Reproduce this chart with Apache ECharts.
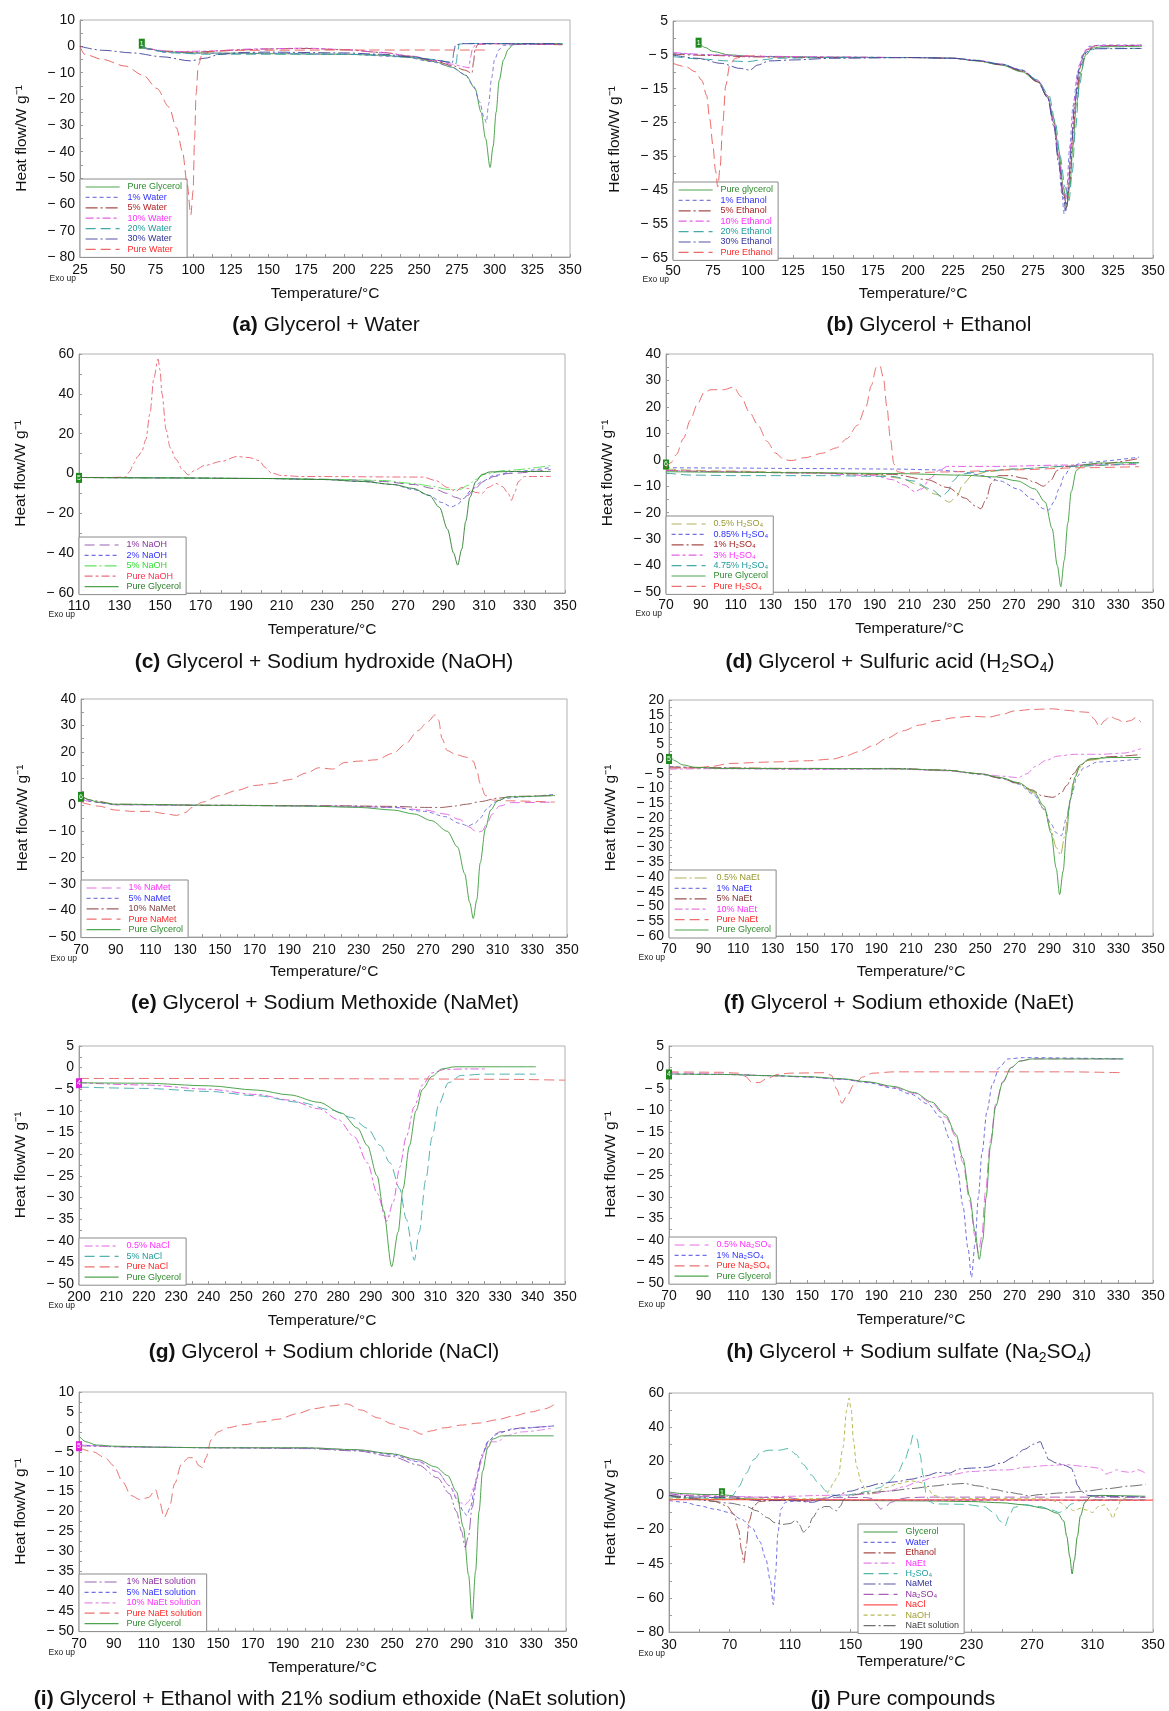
<!DOCTYPE html>
<html><head><meta charset="utf-8">
<script src="https://cdn.jsdelivr.net/npm/echarts@6/dist/echarts.min.js"></script>
<style>html,body{margin:0;padding:0;background:#fff}#c{width:1169px;height:1711px}</style>
</head><body><div id="c"></div>
<script>
// ---------------- tick labels ----------------
const aXTicks = [25,50,75,100,125,150,175,200,225,250,275,300,325,350];
const aYTicks = [-80,-70,-60,-50,-40,-30,-20,-10,0,10];
const bXTicks = [50,75,100,125,150,175,200,225,250,275,300,325,350];
const bYTicks = [-65,-55,-45,-35,-25,-15,-5,5];
const cXTicks = [110,130,150,170,190,210,230,250,270,290,310,330,350];
const cYTicks = [-60,-40,-20,0,20,40,60];
const dXTicks = [70,90,110,130,150,170,190,210,230,250,270,290,310,330,350];
const dYTicks = [-50,-40,-30,-20,-10,0,10,20,30,40];
const eYTicks = [-50,-40,-30,-20,-10,0,10,20,30,40];
const fYTicks = [-60,-55,-50,-45,-40,-35,-30,-25,-20,-15,-10,-5,0,5,10,15,20];
const gXTicks = [200,210,220,230,240,250,260,270,280,290,300,310,320,330,340,350];
const gYTicks = [-50,-45,-40,-35,-30,-25,-20,-15,-10,-5,0,5];
const hYTicks = [-50,-45,-40,-35,-30,-25,-20,-15,-10,-5,0,5];
const iYTicks = [-50,-45,-40,-35,-30,-25,-20,-15,-10,-5,0,5,10];
const jXTicks = [30,70,110,150,190,230,270,310,350];
const jYTicks = [-80,-60,-40,-20,0,20,40,60];
const jYTickLabels = ['− 80','− 60','− 45','− 20','0','20','40','60'];

// ---------------- (a) Glycerol + Water ----------------
const A_pureGlycerol = [[66,0.5],[70,-0.8],[80,-2],[100,-2.5],[125,-2.6],[150,-2.8],[200,-3],[225,-3.4],[245,-4.3],[260,-5.8],[272,-8],[281,-11],[287,-16],[291,-25],[294,-35],[297,-46],[299,-38],[301,-25],[303,-13],[306,-5],[309,-1.2],[312,0.6],[320,1],[345,1]];
const A_water1 = [[66,0.2],[70,-1],[80,-2.2],[100,-2.6],[150,-2.6],[200,-3],[240,-4],[258,-5.8],[270,-7.5],[280,-10.5],[286,-15],[290,-21],[293,-27],[294.5,-29],[296,-22],[298,-12],[300,-5],[303,-1.2],[306,0.4],[320,0.8],[345,0.8]];
const A_water5 = [[66,0],[70,-1],[80,-1.8],[100,-2.2],[125,-1.5],[150,-1],[175,-0.8],[200,-1.3],[225,-2.3],[245,-3.8],[260,-5.5],[272,-7.3],[280,-9],[285,-10.2],[286,-6],[287,-1],[289,0.8],[300,1],[345,0.6]];
const A_water10 = [[66,0],[70,-1],[85,-2],[110,-1.8],[140,-1],[175,-0.7],[200,-1.2],[225,-2.3],[245,-3.7],[260,-5.3],[272,-6.8],[280,-7.8],[283,-8.2],[284,-4],[285.5,-0.5],[288,0.9],[300,1],[345,0.7]];
const A_water20 = [[66,0],[70,-1],[85,-2.5],[110,-3],[150,-3],[200,-3],[225,-3.3],[245,-4],[260,-5],[272,-6.2],[274.5,-6.5],[275.5,-2],[276.5,0.8],[280,1.1],[345,1]];
const A_water30 = [[25,0],[40,-1.5],[60,-2.5],[80,-4],[98,-5.5],[108,-4.5],[118,-3],[135,-2.3],[150,-2.2],[200,-2.5],[225,-3],[245,-4],[260,-5.2],[270,-6],[272,-6.2],[273,-2],[274,0.5],[278,1],[345,1]];
const A_pureWater = [[25,0],[28,-3],[40,-5],[55,-7.5],[67,-11],[76,-16],[84,-23],[89,-31],[93,-40],[96,-52],[98.5,-64],[100,-55],[101,-35],[102,-18],[103.5,-7],[106,-3],[112,-2],[130,-1.5],[200,-1.4],[295,-1.4]];
const A_marker = [66, 1];

// ---------------- (b) Glycerol + Ethanol ----------------
const B_pureGly = [[66,-1.4],[70,-2.8],[75,-4],[85,-5],[100,-5.5],[150,-5.7],[200,-5.8],[225,-6],[240,-6.8],[255,-8],[268,-10],[278,-13],[284,-17],[288,-24],[291,-33],[294,-44],[296,-50],[298,-44],[300,-32],[302,-20],[305,-10],[308,-5],[312,-3],[320,-2.5],[343,-2.5]];
const B_eth1 = [[50,-4.5],[75,-5],[100,-5.5],[150,-5.7],[200,-5.8],[225,-6],[240,-6.7],[255,-7.8],[268,-9.5],[278,-12.5],[284,-17],[288,-25],[291,-36],[293,-46],[294.5,-52],[296,-45],[298,-32],[300,-20],[303,-10],[306,-5],[310,-2.5],[318,-2.1],[343,-2.1]];
const B_eth5 = [[50,-4.8],[75,-5.2],[100,-5.6],[150,-5.8],[200,-5.8],[225,-6],[240,-6.7],[255,-7.9],[268,-9.8],[278,-13],[284,-17.5],[288,-25],[291,-35],[294,-46],[296,-50],[298,-42],[300,-28],[302,-17],[305,-8],[309,-3.5],[314,-2.3],[343,-2.2]];
const B_eth10 = [[50,-4.3],[75,-5],[100,-5.4],[150,-5.6],[200,-5.8],[225,-6],[240,-6.6],[255,-7.7],[268,-9.5],[278,-12.5],[284,-17],[288,-25],[291,-35],[293.5,-44],[295,-48],[297,-42],[299,-30],[301,-18],[304,-8],[308,-3.5],[313,-2.3],[343,-2.2]];
const B_eth20 = [[50,-5.5],[70,-6.3],[85,-6.8],[97,-7],[105,-6.5],[115,-6],[150,-5.8],[200,-5.8],[225,-6],[240,-6.6],[255,-7.7],[268,-9.5],[278,-12.5],[285,-17],[289,-25],[292,-35],[295,-44],[297.5,-48],[299.5,-40],[301.5,-27],[304,-14],[307,-6],[311,-3.5],[318,-3],[343,-3.1]];
const B_eth30 = [[50,-5],[65,-6],[80,-7.5],[92,-9],[98,-9.5],[103,-8],[110,-6.8],[125,-6.5],[150,-6],[200,-5.8],[225,-6],[240,-6.7],[255,-7.8],[268,-9.6],[278,-12.8],[284,-17.5],[288,-26],[291,-37],[294,-47],[295.5,-51],[297,-45],[299,-32],[301,-20],[304,-9],[307,-4.5],[312,-3.2],[343,-3.1]];
const B_pureEth = [[50,-7.5],[58,-8.5],[64,-10],[68,-12.5],[71,-17],[73,-24],[75,-32],[76.5,-39],[78,-44],[79.5,-38],[81,-26],[83,-14],[85.5,-8],[89,-6],[95,-5.3],[105,-5.3]];
const B_marker = [66, -1.4];

// ---------------- (c) Glycerol + NaOH ----------------
const C_naoh1 = [[110,-2],[150,-2.2],[200,-2.5],[240,-3],[260,-4],[275,-5.5],[285,-7.5],[292,-10],[296,-12],[299,-13],[302,-11],[305,-8],[310,-4],[315,-1.5],[322,0],[343,2]];
const C_naoh2 = [[110,-2],[150,-2.2],[200,-2.5],[230,-3],[250,-4],[265,-5.5],[275,-8],[283,-11],[289,-14.5],[294,-16.8],[297,-15.5],[300,-12.5],[304,-8],[309,-4],[315,-1],[325,1],[343,3]];
const C_naoh5 = [[110,-2],[150,-2.2],[200,-2.5],[240,-3],[260,-3.5],[275,-5],[285,-6.5],[292,-8],[298,-8],[302,-6],[306,-3],[310,-0.5],[320,1.5],[343,4]];
const C_pureNaoh = [[110,-2],[125,-2],[133,-1.8],[135,1],[137,5],[139,8.5],[141,11],[143,17],[145,30],[147,48],[149,57.5],[150,52],[151,40],[153,22],[155,13],[158,7],[161,2],[164,-0.7],[167,1.5],[172,4],[180,6],[188,8.5],[194,8],[199,6.5],[202,3],[205,0.3],[210,-1],[220,-1.5],[280,-1.8],[286,-3.5],[292,-7],[296,-9],[299,-7],[302,-7.5],[306,-9.5],[309,-10],[312,-7],[316,-5],[319,-6.5],[322,-10],[323.5,-13.5],[325,-10],[327,-4],[330,-1.5],[343,-1.5]];
const C_pureGly = [[110,-2],[150,-2.2],[200,-2.5],[230,-3],[250,-4],[265,-5.5],[275,-7.5],[283,-11],[288,-17],[292,-28],[295,-40],[297,-46],[299,-38],[301,-24],[303,-12],[306,-4],[309,-0.5],[313,0.8],[325,1],[343,1]];
const C_marker = [110, -2.2];

// ---------------- (d) Glycerol + H2SO4 ----------------
const D_h05 = [[70,-3.5],[100,-4.2],[150,-4.8],[190,-5.5],[205,-7],[215,-9.5],[225,-13],[233,-16],[237,-14],[241,-9],[246,-6],[255,-4.5],[270,-3.5],[300,-2.5],[342,-1.5]];
const D_h085 = [[70,-3],[100,-3.1],[150,-3.3],[200,-3.5],[225,-3.8],[240,-4.5],[252,-6],[262,-8],[272,-11],[281,-15],[287,-18.5],[290,-19],[293,-16],[296,-11],[299,-6],[303,-2.5],[310,-1],[342,1]];
const D_h1 = [[70,-4],[100,-4.5],[150,-5],[200,-5.5],[220,-7.5],[232,-10.5],[242,-14.5],[248,-17.5],[251,-18.5],[254,-15],[257,-9],[261,-6],[268,-6],[276,-7],[282,-8.5],[287,-10],[291,-8],[295,-4],[300,-2.5],[320,-1.5],[342,0.5]];
const D_h3 = [[70,-4],[100,-4.5],[150,-5],[190,-6],[200,-7.5],[207,-9.5],[213,-12],[217,-11],[222,-7],[227,-4],[232,-2.5],[260,-2.5],[300,-2],[342,-1.8]];
const D_h475 = [[70,-5],[85,-5.8],[110,-6],[130,-6],[160,-6],[200,-6.3],[212,-8],[222,-11],[229,-14],[232,-12],[235,-8],[239,-5.5],[250,-4.5],[270,-3.5],[300,-2.5],[342,-1.2]];
const D_pureGly = [[70,-4.5],[100,-4.7],[150,-4.9],[200,-5.2],[240,-5.8],[260,-6.5],[272,-8],[282,-11],[288,-16],[292,-26],[295,-40],[297,-48],[299,-38],[301,-24],[303,-12],[306,-4],[310,-1.8],[320,-1.2],[342,-1]];
const D_pureH2so4 = [[70,-3],[73,-1],[76,2],[80,8],[84,15],[88,21],[92,25.5],[96,26.5],[103,26.5],[109,27.5],[113,24],[118,18],[123,13],[128,7],[133,2.5],[138,0],[142,-0.3],[150,0.8],[160,2.5],[168,4.5],[174,8],[180,13],[185,20],[188,28],[191,35],[193,35.5],[195,31],[197,20],[199,8],[201,-1.5],[203,-4.5],[207,-5],[230,-4.6],[270,-3.8],[310,-3],[342,-2.6]];
const D_marker = [70, -1.8];

// ---------------- (e) Glycerol + NaMet ----------------
const E_namet1 = [[70,2],[78,1],[90,0],[150,-0.3],[220,-0.5],[250,-1],[268,-2],[280,-3.5],[288,-5.5],[294,-8.5],[298,-10.5],[301,-10],[304,-7],[307,-3.5],[311,-0.5],[318,0.8],[343,1]];
const E_namet5 = [[70,2.5],[78,1],[90,0],[150,-0.2],[220,-0.5],[250,-1],[268,-2.5],[280,-4.5],[288,-7],[293,-8],[297,-7],[300,-5],[304,-1.5],[308,1],[315,2.5],[325,3],[343,4]];
const E_namet10 = [[70,3],[78,1.5],[90,0.2],[150,-0.2],[220,-0.4],[250,-0.6],[268,-1],[278,-1],[285,-0.5],[292,0.2],[300,1.2],[310,2.5],[320,3.2],[343,3.5]];
const E_pureNamet = [[70,1],[80,-0.5],[90,-2],[100,-2.5],[110,-2.5],[118,-3.3],[125,-4],[130,-3],[134,-1],[140,1],[150,3.5],[160,5.5],[170,7.3],[180,8],[190,9.5],[200,12],[207,14],[215,13.5],[222,16],[230,16.5],[240,17],[250,19.5],[257,23],[264,28],[270,31.5],[274,34],[276,32],[278,25],[281,20.5],[286,19],[292,18],[296,16.5],[298,13],[300,8],[303,3.5],[307,1.8],[315,1.5],[343,1]];
const E_pureGly = [[70,4],[74,2],[80,1],[90,0.2],[150,-0.2],[200,-0.5],[230,-1],[250,-2],[262,-3.5],[272,-6],[281,-10],[287,-16],[291,-26],[294,-37],[296,-43],[298,-36],[300,-22],[303,-9],[306,-2],[310,1.5],[316,3],[343,3.5]];
const E_marker = [70, 3];

// ---------------- (f) Glycerol + NaEt ----------------
const F_naet05 = [[70,-2.5],[90,-3],[150,-3.2],[200,-3.3],[230,-3.8],[250,-5],[262,-6.5],[272,-8.2],[281,-11.5],[287,-17],[291,-24],[294,-30],[296.5,-32.5],[299,-26],[301,-17],[304,-8],[307,-3],[312,-0.5],[325,0.5],[343,0.5]];
const F_naet1 = [[70,-2.5],[90,-3],[150,-3.5],[200,-3.3],[230,-3.8],[250,-5.2],[262,-6.5],[272,-8.5],[281,-12],[287,-17],[291,-22],[294,-25],[297,-26],[300,-20],[303,-12],[306,-6],[310,-3],[318,-1],[343,0]];
const F_naet5 = [[70,-3],[90,-3],[150,-3.3],[200,-3.2],[230,-3.8],[250,-5],[262,-6.5],[272,-8.2],[280,-10.5],[286,-12.5],[292,-13],[297,-11.5],[300,-9],[304,-5],[308,-2],[314,0],[325,0.8],[343,1.5]];
const F_naet10 = [[70,-3.5],[90,-3.3],[150,-3.5],[200,-3.4],[230,-4],[250,-5],[262,-5.8],[272,-6.3],[277,-5],[282,-2.5],[288,-0.5],[295,1],[305,1.6],[320,1.6],[333,2],[343,3.5]];
const F_pureNaet = [[70,-3],[85,-3],[95,-2.5],[105,-1.5],[130,-1],[150,-0.6],[165,0],[172,1],[180,2.5],[188,4.5],[196,7],[205,9.5],[215,11.5],[225,13],[235,14],[245,14.5],[255,14.2],[262,15],[270,16.3],[280,16.8],[292,17],[300,16.5],[308,16],[313,15.8],[316,13.5],[319,11],[322,13],[325,14.5],[329,13.5],[333,12.5],[337,13],[340,14],[343,12.5]];
const F_pureGly = [[70,2],[73,-0.5],[78,-2],[85,-2.8],[100,-3.2],[150,-3.2],[200,-3.3],[230,-3.8],[250,-5],[262,-6.3],[272,-8],[281,-11],[287,-16],[291,-25],[294,-37],[296,-46],[298,-38],[300,-25],[302,-14],[305,-6],[308,-2],[313,0],[325,0.5],[343,0.5]];
const F_marker = [70, 0];

// ---------------- (g) Glycerol + NaCl ----------------
const G_nacl05 = [[200,-3.5],[220,-4],[240,-5],[255,-6.2],[265,-7.5],[274,-9.5],[280,-12],[285,-16],[289,-22],[292,-29],[295,-35.5],[297,-31],[299,-23],[301,-16],[303.5,-9],[306,-4],[309,-1.2],[313,-0.4],[320,-0.3],[326,-0.3]];
const G_nacl5 = [[200,-4.5],[220,-4.8],[240,-5.5],[255,-6.5],[268,-8],[278,-9.8],[284,-11.5],[289,-14],[293,-18],[296,-22],[299,-28],[301,-35],[303.5,-44.5],[305,-38],[307,-26],[309,-16],[311,-8.5],[314,-3.5],[318,-1.8],[325,-1.5],[341,-1.5]];
const G_pureNacl = [[200,-2.5],[250,-2.5],[300,-2.6],[330,-2.7],[350,-2.9]];
const G_pureGly = [[200,-3.5],[220,-3.6],[240,-4.2],[255,-5.2],[265,-6.3],[274,-8],[281,-10.5],[286,-14],[289,-18],[292,-25],[294,-33],[296.5,-46],[298.5,-38],[300,-28],[302,-18],[304,-10],[306,-5],[309,-2],[312,-0.3],[316,0.2],[330,0.2],[341,0.2]];
const G_marker = [200, -3.6];

// ---------------- (h) Glycerol + Na2SO4 ----------------
const H_na05 = [[70,-1.2],[100,-1.5],[130,-1.9],[150,-2.2],[170,-2.7],[185,-3.4],[200,-4.6],[212,-6],[222,-8.3],[230,-11.5],[236,-16],[240,-22],[244,-31],[247,-39],[249,-43],[251,-39],[253,-29],[256,-17],[259,-8.5],[263,-3.3],[268,0],[273,1.5],[280,2],[333,2]];
const H_na1 = [[70,-1.5],[100,-1.6],[130,-1.9],[150,-2.2],[170,-2.7],[185,-3.5],[200,-4.8],[210,-6.2],[220,-8.5],[227,-11.5],[233,-17],[237,-24],[240,-32],[243,-42],[245,-48.7],[247,-41],[249,-30],[251,-20],[254,-10],[257,-4],[261,0],[266,2],[275,2.3],[333,2]];
const H_pureNa2so4 = [[70,-1],[100,-1.1],[110,-1.3],[114,-2],[118,-3.4],[122,-3.5],[127,-2.5],[133,-1.6],[140,-1.3],[160,-1.2],[164,-1.8],[167,-5],[170,-8.3],[173,-6.5],[177,-4],[182,-2.2],[188,-1.3],[200,-1],[250,-1],[300,-1],[333,-1.2]];
const H_pureGly = [[70,-1.5],[100,-1.6],[130,-1.9],[150,-2.1],[170,-2.6],[185,-3.3],[200,-4.4],[212,-5.8],[222,-8],[230,-11],[236,-15.5],[240,-21],[244,-30],[247,-38],[249.5,-44.5],[251.5,-40],[253.5,-30],[256,-18],[259,-9],[263,-3.5],[268,0],[273,1.5],[280,2],[333,2]];
const H_marker = [70, -1.6];

// ---------------- (i) Glycerol + NaEt solution ----------------
const I_sol1 = [[70,-3.5],[100,-3.8],[150,-4],[200,-4.2],[230,-4.8],[250,-6.2],[265,-8.3],[276,-11.5],[283,-15.5],[287,-20],[290,-25],[292,-29],[294,-26],[296,-19],[299,-11],[302,-5.5],[306,-2],[312,0],[325,1],[343,1.5]];
const I_sol5 = [[70,-3.3],[100,-3.8],[150,-4],[200,-4.1],[230,-4.6],[250,-5.8],[265,-7.5],[276,-10],[283,-13.5],[288,-17.5],[291,-20],[293,-21],[295,-19],[298,-13],[301,-7],[305,-2.5],[310,-0.5],[320,0.8],[343,1.5]];
const I_sol10 = [[70,-3.3],[100,-3.8],[150,-4],[200,-4],[230,-4.5],[250,-5.5],[265,-7.3],[276,-10],[283,-13.5],[288,-17],[291.5,-18.5],[294,-17.5],[297,-14],[300,-9],[303,-5],[307,-2.5],[311,-2.5],[315,-1],[325,0],[343,1]];
const I_pureSol = [[70,-4],[78,-5],[85,-6.5],[90,-8.5],[95,-12.5],[100,-16],[105,-17],[110,-16.5],[114,-14.5],[116,-17],[119,-21.5],[122,-19],[125,-13],[129,-8],[133,-6.5],[136,-6.5],[139,-8.5],[141,-9],[143,-6.5],[146,-2],[150,0],[155,1],[165,1.8],[175,2.5],[185,3.2],[195,4.5],[205,5.8],[215,6.5],[224,7],[232,5.5],[242,3.5],[250,2],[256,1],[262,0.3],[267,-0.6],[272,0.2],[280,1],[290,1.7],[300,2.2],[310,3],[320,4],[330,5],[338,5.8],[343,6.8]];
const I_pureGly = [[70,-1],[74,-2.5],[80,-3.3],[90,-3.6],[120,-3.9],[150,-4],[200,-4],[230,-4.5],[250,-5.5],[265,-7],[275,-8.8],[282,-11],[287,-15],[291,-24],[294,-36],[296,-47],[298,-35],[300,-20],[302,-10],[305,-4],[308,-1.8],[313,-1],[343,-1]];
const I_marker = [70, -3.6];

// ---------------- (j) Pure compounds ----------------
const J_glycerol = [[30,2],[40,1],[55,0.5],[65,0.5],[70,0],[80,-2],[100,-2.5],[150,-3],[200,-3.2],[230,-3.6],[250,-4.3],[265,-5.5],[278,-7.5],[287,-10.5],[291,-15],[293,-24],[295,-36],[296.5,-46],[298,-38],[300,-24],[302,-12],[305,-4],[309,-0.5],[315,0],[345,-0.5]];
const J_water = [[30,-3],[40,-4],[50,-6],[60,-8],[70,-10],[78,-14],[85,-19],[90,-27],[94,-37],[97,-50],[99,-64],[100.5,-45],[102,-22],[104,-8],[107,-4],[115,-3],[150,-2.8],[200,-2.8],[250,-2.8],[300,-2.8],[345,-2.8]];
const J_ethanol = [[30,0],[45,-1.5],[60,-3.5],[68,-6],[73,-11],[76,-20],[78,-32],[79.5,-39.5],[81,-30],[83,-15],[86,-6],[90,-3.5],[100,-3],[120,-2.8]];
const J_naet = [[30,1],[50,0],[70,-0.5],[90,-1],[110,-0.5],[130,0],[150,0.3],[165,1],[175,2.5],[185,5],[195,8],[205,10.5],[215,12],[230,14],[245,14.8],[255,15],[265,16.5],[280,17.5],[292,18],[305,17],[315,16],[319,12.5],[322,13.5],[326,15],[330,14],[335,13.5],[340,15],[345,13]];
const J_h2so4 = [[30,-1],[50,-1.5],[68,-2],[72,0],[76,5],[81,13],[86,21],[91,25.5],[96,26.5],[103,26.5],[109,27.5],[114,24],[119,18],[124,12],[129,7],[134,2.5],[139,0],[144,-0.5],[152,0.8],[162,2.5],[169,4.5],[175,8],[181,13],[186,21],[189,28],[191.5,35.5],[194,33],[196,24],[198,12],[200,1],[202,-3.5],[206,-5],[225,-5.2],[238,-6.5],[245,-10],[249,-15],[252,-18],[255,-12],[258,-7],[265,-5.5],[275,-6.5],[283,-8.5],[288,-10],[292,-8],[296,-5],[302,-3],[310,-2.5],[345,-2.5]];
const J_namet = [[30,0],[50,-1],[70,-1.5],[90,-3],[110,-3],[125,-4],[133,-2],[140,0],[150,2.5],[160,5],[170,7],[180,8],[190,9.5],[200,11.5],[208,13.5],[215,13],[222,15.5],[230,16],[240,16.5],[250,19],[258,22.5],[265,27],[271,30],[275.5,31.5],[278,27],[281,21],[286,19],[292,17.5],[296,16],[298,12],[300,6],[303,2],[307,0],[315,-0.5],[345,-1]];
const J_na2so4 = [[30,1],[50,-0.5],[80,-1],[110,-1.3],[114,-2],[118,-3.4],[122,-3.5],[127,-2.5],[133,-1.6],[140,-1.3],[160,-1.2],[164,-1.8],[167,-5],[170,-8],[173,-6.5],[177,-4],[182,-2.2],[188,-1.3],[200,-1],[250,-1],[300,-1],[345,-1.2]];
const J_nacl = [[30,-2.5],[100,-2.5],[200,-2.6],[300,-2.7],[350,-2.8]];
const J_naoh = [[30,-2],[80,-2],[125,-2],[133,-1.5],[136,3],[139,8],[142,12],[145,28],[147.5,50],[149,57],[150.5,50],[152,32],[154,17],[157,8],[160,3],[163,0.5],[167,2],[173,4.5],[182,7],[190,8.5],[197,7.5],[201,4],[205,0],[212,-1.5],[230,-1.8],[280,-2],[288,-4],[294,-7.5],[298,-9],[302,-7.5],[306,-8.5],[310,-10],[314,-6.5],[318,-5.5],[321,-9],[323.5,-13.5],[326,-8],[329,-2.5],[332,-1.5]];
const J_naetSol = [[30,0],[40,-1.5],[55,-3],[70,-4.5],[80,-6],[88,-9],[95,-13],[100,-16],[105,-17],[110,-16.5],[114,-14.5],[116,-17],[119,-21.5],[122,-19],[125,-13],[129,-8],[133,-6.5],[136,-6.5],[139,-8.5],[141,-9],[143,-6.5],[146,-2],[150,0],[160,1.5],[175,2.5],[190,4],[205,5.5],[215,6.5],[225,7],[235,5.5],[245,3.5],[255,1.8],[262,0.8],[268,-0.3],[275,0.5],[290,1.5],[305,2.5],[320,4],[335,5.5],[345,6.5]];
const J_marker = [65, 1.3];

// ---------------- styles / layout ----------------
const FONT = "'Liberation Sans', Arial, Helvetica, sans-serif";
const SOLID = 'solid', SHORT = [4,3], DASHDOT = [12,3,2,3], DASHDOT2 = [8,3,3,3], LONG = [10,5];
const GREEN='#3c9a3c', GT='#2e8a2e';

const panels = [
 {grid:[80,20,490,237], xr:[25,350], xt:aXTicks, yr:[-80,10], yt:aYTicks, leg:[80,179], cap:[326,325], gap:29,
  caption:'{b|(a)} Glycerol + Water', mk:A_marker, mkLabel:'1', mkColor:'#1e8a1e',
  s:[['Pure Glycerol',A_pureGlycerol,GREEN,SOLID,GT],['1% Water',A_water1,'#7070d8',SHORT,'#3030ff'],['5% Water',A_water5,'#a03838',DASHDOT,'#b02020'],['10% Water',A_water10,'#e050e0',DASHDOT2,'#ff30ff'],['20% Water',A_water20,'#30a0a0',LONG,'#209a9a'],['30% Water',A_water30,'#404098',DASHDOT,'#30309a'],['Pure Water',A_pureWater,'#e85858',LONG,'#ff2a2a']]},
 {grid:[673,21,480,237], xr:[50,350], xt:bXTicks, yr:[-65,5], yt:bYTicks, leg:[673,182], cap:[929,325], gap:28,
  caption:'{b|(b)} Glycerol + Ethanol', mk:B_marker, mkLabel:'1', mkColor:'#1e8a1e',
  s:[['Pure glycerol',B_pureGly,GREEN,SOLID,GT],['1% Ethanol',B_eth1,'#7070d8',SHORT,'#3030ff'],['5% Ethanol',B_eth5,'#a03838',DASHDOT,'#b02020'],['10% Ethanol',B_eth10,'#e050e0',DASHDOT2,'#ff30ff'],['20% Ethanol',B_eth20,'#30a0a0',LONG,'#209a9a'],['30% Ethanol',B_eth30,'#404098',DASHDOT,'#30309a'],['Pure Ethanol',B_pureEth,'#e85858',LONG,'#ff2a2a']]},
 {grid:[79,354,486,239], xr:[110,350], xt:cXTicks, yr:[-60,60], yt:cYTicks, leg:[79,537], cap:[324,662], gap:29,
  caption:'{b|(c)} Glycerol + Sodium hydroxide (NaOH)', mk:C_marker, mkLabel:'5', mkColor:'#1e8a1e',
  s:[['1% NaOH',C_naoh1,'#9050a8',LONG,'#8a30a0'],['2% NaOH',C_naoh2,'#6060e0',SHORT,'#3030ff'],['5% NaOH',C_naoh5,'#50e050',DASHDOT,'#30e030'],['Pure NaOH',C_pureNaoh,'#e86070',DASHDOT2,'#ff3050'],['Pure Glycerol',C_pureGly,'#2e7d2e',SOLID,'#2a7a2a']]},
 {grid:[666,354,487,238], xr:[70,350], xt:dXTicks, yr:[-50,40], yt:dYTicks, leg:[666,516], cap:[890,662], gap:29,
  caption:'{b|(d)} Glycerol + Sulfuric acid (H{s|2}SO{s|4})', mk:D_marker, mkLabel:'6', mkColor:'#1e8a1e',
  s:[['0.5% H₂SO₄',D_h05,'#a8a848',LONG,'#989830'],['0.85% H₂SO₄',D_h085,'#6060e0',SHORT,'#3030ff'],['1% H₂SO₄',D_h1,'#a03838',DASHDOT,'#a02020'],['3% H₂SO₄',D_h3,'#e050e0',DASHDOT2,'#ff30ff'],['4.75% H₂SO₄',D_h475,'#30a0a0',LONG,'#209a9a'],['Pure Glycerol',D_pureGly,GREEN,SOLID,GT],['Pure H₂SO₄',D_pureH2so4,'#e86060',LONG,'#ff2a2a']]},
 {grid:[81,699,486,238], xr:[70,350], xt:dXTicks, yr:[-50,40], yt:eYTicks, leg:[81,880], cap:[325,1003], gap:27,
  caption:'{b|(e)} Glycerol + Sodium Methoxide (NaMet)', mk:E_marker, mkLabel:'6', mkColor:'#1e8a1e',
  s:[['1% NaMet',E_namet1,'#e060e0',LONG,'#ff30ff'],['5% NaMet',E_namet5,'#7070d8',SHORT,'#3030ff'],['10% NaMet',E_namet10,'#905050',DASHDOT,'#804040'],['Pure NaMet',E_pureNamet,'#e86060',LONG,'#ff2a2a'],['Pure Glycerol',E_pureGly,GREEN,SOLID,GT]]},
 {grid:[669,700,484,236], xr:[70,350], xt:dXTicks, yr:[-60,20], yt:fYTicks, leg:[669,870], cap:[899,1003], gap:28,
  caption:'{b|(f)} Glycerol + Sodium ethoxide (NaEt)', mk:F_marker, mkLabel:'5', mkColor:'#1e8a1e',
  s:[['0.5% NaEt',F_naet05,'#a8a848',DASHDOT,'#989830'],['1% NaEt',F_naet1,'#7070d8',SHORT,'#3030ff'],['5% NaEt',F_naet5,'#904040',DASHDOT,'#803030'],['10% NaEt',F_naet10,'#e070e0',DASHDOT2,'#ff30ff'],['Pure NaEt',F_pureNaet,'#e86060',LONG,'#ff2a2a'],['Pure Glycerol',F_pureGly,GREEN,SOLID,GT]]},
 {grid:[79,1046,486,238], xr:[200,350], xt:gXTicks, yr:[-50,5], yt:gYTicks, leg:[79,1238], cap:[324,1352], gap:29,
  caption:'{b|(g)} Glycerol + Sodium chloride (NaCl)', mk:G_marker, mkLabel:'4', mkColor:'#e020e0',
  s:[['0.5% NaCl',G_nacl05,'#e050e0',DASHDOT2,'#ff30ff'],['5% NaCl',G_nacl5,'#40a8a8',LONG,'#209a9a'],['Pure NaCl',G_pureNacl,'#e86060',LONG,'#ff2a2a'],['Pure Glycerol',G_pureGly,GREEN,SOLID,GT]]},
 {grid:[669,1046,484,237], xr:[70,350], xt:dXTicks, yr:[-50,5], yt:hYTicks, leg:[669,1237], cap:[909,1352], gap:29,
  caption:'{b|(h)} Glycerol + Sodium sulfate (Na{s|2}SO{s|4})', mk:H_marker, mkLabel:'4', mkColor:'#1e8a1e',
  s:[['0.5% Na₂SO₄',H_na05,'#e060e0',LONG,'#ff30ff'],['1% Na₂SO₄',H_na1,'#6060e0',SHORT,'#3030ff'],['Pure Na₂SO₄',H_pureNa2so4,'#e86060',LONG,'#ff2a2a'],['Pure Glycerol',H_pureGly,GREEN,SOLID,GT]]},
 {grid:[79,1392,487,239], xr:[70,350], xt:dXTicks, yr:[-50,10], yt:iYTicks, leg:[79,1574], cap:[330,1699], gap:29,
  caption:'{b|(i)} Glycerol + Ethanol with 21% sodium ethoxide (NaEt solution)', mk:I_marker, mkLabel:'5', mkColor:'#e020e0',
  s:[['1% NaEt solution',I_sol1,'#9050a8',DASHDOT,'#8a30a0'],['5% NaEt solution',I_sol5,'#6060e0',SHORT,'#3030ff'],['10% NaEt solution',I_sol10,'#e080e0',DASHDOT2,'#ff30ff'],['Pure NaEt solution',I_pureSol,'#e86060',LONG,'#ff2a2a'],['Pure Glycerol',I_pureGly,GREEN,SOLID,GT]]},
 {grid:[669,1393,484,239], xr:[30,350], xt:jXTicks, yr:[-80,60], yt:jYTicks, ylab:jYTickLabels, leg:[858,1524], cap:[903,1699], gap:22,
  caption:'{b|(j)} Pure compounds', mk:J_marker, mkLabel:'1', mkColor:'#1e8a1e',
  s:[['Glycerol',J_glycerol,'#2e8a2e',SOLID,'#2e8a2e'],['Water',J_water,'#6060e0',SHORT,'#3030ff'],['Ethanol',J_ethanol,'#a03838',DASHDOT,'#a02020'],['NaEt',J_naet,'#e070e0',DASHDOT2,'#ff30ff'],['H₂SO₄',J_h2so4,'#40b0a0',LONG,'#20a0a0'],['NaMet',J_namet,'#404098',DASHDOT,'#30309a'],['Na₂SO₄',J_na2so4,'#a050b0',LONG,'#9030a0'],['NaCl',J_nacl,'#ff4040',SOLID,'#ff2020'],['NaOH',J_naoh,'#b0b040',SHORT,'#a0a030'],['NaEt solution',J_naetSol,'#606060',DASHDOT,'#404040']]}
];

function withMids(t){ const r=[]; for(let i=0;i<t.length;i++){ r.push(t[i]); if(i<t.length-1) r.push((t[i]+t[i+1])/2);} return r; }
function fmtNum(v){ return v<0 ? '− '+(-v) : String(v); }

const grids=[], xAxes=[], yAxes=[], series=[], legends=[], graphics=[];
const AX='#9a9a9a';
panels.forEach((p,i)=>{
  const [l,t,w,h]=p.grid;
  grids.push({left:l, top:t, width:w, height:h, show:true, borderColor:'#b0b0b0', borderWidth:1, backgroundColor:'#fff'});
  xAxes.push({gridIndex:i, type:'value', min:p.xr[0], max:p.xr[1], splitLine:{show:false},
    axisLine:{show:true, onZero:false, lineStyle:{color:AX}},
    axisTick:{show:true, inside:true, length:3, lineStyle:{color:AX}, customValues:withMids(p.xt)},
    axisLabel:{customValues:p.xt, formatter:fmtNum, color:'#111', fontSize:14, fontFamily:FONT, margin:6},
    name:'Temperature/°C', nameLocation:'middle', nameGap:p.gap, nameTextStyle:{fontSize:15.5, color:'#111', fontFamily:FONT}});
  const ylab = p.ylab;
  yAxes.push({gridIndex:i, type:'value', min:p.yr[0], max:p.yr[1], splitLine:{show:false},
    axisLine:{show:true, onZero:false, lineStyle:{color:AX}},
    axisTick:{show:true, inside:true, length:3, lineStyle:{color:AX}, customValues:withMids(p.yt)},
    axisLabel:{customValues:p.yt, formatter: ylab ? (v=>ylab[p.yt.indexOf(v)]) : fmtNum, color:'#111', fontSize:14, fontFamily:FONT, margin:5},
    name:'Heat flow/W g⁻¹', nameLocation:'middle', nameGap:50, nameRotate:90, nameTextStyle:{fontSize:15.5, color:'#111', fontFamily:FONT}});
  p.s.forEach((s,k)=>{
    const ser={type:'line', name:s[0], data:s[1], xAxisIndex:i, yAxisIndex:i, symbol:'none', smooth:0.3, smoothMonotone:'x',
      lineStyle:{color:s[2], width:(s[0]==='NaCl'?1.3:1), type:s[3], opacity:0.9}, itemStyle:{color:s[2]}, silent:true, z:2+k};
    if(k===p.s.length-1 && p.mk){
      ser.markPoint={symbol:'rect', symbolSize:[6,10], silent:true, animation:false,
        itemStyle:{color:p.mkColor},
        label:{show:true, formatter:p.mkLabel, color:'#fff', fontSize:7, fontFamily:FONT, position:'inside'},
        data:[{coord:p.mk}]};
    }
    series.push(ser);
  });
  legends.push({left:p.leg[0], top:p.leg[1], orient:'vertical', selectedMode:false,
    backgroundColor:'#fff', borderColor:'#8a8a8a', borderWidth:1, padding:[3,5,3,5],
    itemWidth:34, itemHeight:8, itemGap:0.4,
    itemStyle:{opacity:0, borderWidth:0},
    lineStyle:{width:1.2},
    textStyle:{fontSize:9, fontFamily:FONT, lineHeight:10, padding:[0,0,0,3]},
    data:p.s.map(s=>({name:s[0], textStyle:{color:s[4]}}))});
  graphics.push({type:'text', x:p.cap[0], y:p.cap[1], silent:true, style:{
    text:p.caption, fill:'#111', fontSize:21, fontFamily:FONT, lineHeight:26, align:'center', verticalAlign:'middle',
    rich:{b:{fontWeight:'bold', fontSize:21, fontFamily:FONT, lineHeight:26, fill:'#111'},
          s:{fontSize:14, fontFamily:FONT, lineHeight:14, verticalAlign:'bottom', fill:'#111'}}}});
  graphics.push({type:'text', x:l-4, y:t+h+22, silent:true, style:{text:'Exo up', fill:'#222', fontSize:8.5, fontFamily:FONT, align:'right', verticalAlign:'middle'}});
});

const chart = echarts.init(document.getElementById('c'), null, {renderer:'canvas'});
chart.setOption({animation:false, backgroundColor:'#fff', textStyle:{fontFamily:FONT},
  grid:grids, xAxis:xAxes, yAxis:yAxes, series:series, legend:legends, graphic:graphics});
</script></body></html>
